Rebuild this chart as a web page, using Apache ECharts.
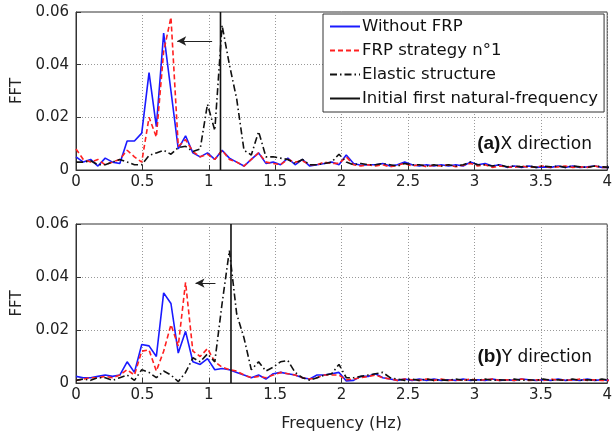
<!DOCTYPE html>
<html><head><meta charset="utf-8">
<script src="https://cdn.jsdelivr.net/npm/echarts@6/dist/echarts.min.js"></script>
<style>html,body{margin:0;padding:0;background:#fff}#c{width:615px;height:437px}</style>
</head><body><div id="c"></div>
<script>
const freq = [0,0.055,0.11,0.165,0.22,0.275,0.33,0.385,0.44,0.495,0.55,0.605,0.66,0.715,0.77,0.825,0.88,0.935,0.99,1.045,1.1,1.155,1.21,1.265,1.32,1.375,1.43,1.485,1.54,1.595,1.65,1.705,1.76,1.815,1.87,1.925,1.98,2.035,2.09,2.145,2.2,2.255,2.31,2.365,2.42,2.475,2.53,2.585,2.64,2.695,2.75,2.805,2.86,2.915,2.97,3.025,3.08,3.135,3.19,3.245,3.3,3.355,3.41,3.465,3.52,3.575,3.63,3.685,3.74,3.795,3.85,3.905,3.96,4.015];
const seriesNames = ['Without FRP','FRP strategy n°1','Elastic structure','Initial first natural-frequency'];
const xTicks = [0,0.5,1,1.5,2,2.5,3,3.5,4];
const yTicks = [0,0.02,0.04,0.06];
// (a) X direction
const xWithout = [0.005,0.003,0.004,0.0015,0.0045,0.003,0.0025,0.011,0.011,0.014,
0.037,0.0165,0.052,0.03,0.008,0.013,0.0065,0.005,0.0065,0.004,
0.0075,0.0045,0.003,0.0015,0.004,0.0065,0.0025,0.003,0.002,0.0045,
0.002,0.004,0.0015,0.002,0.0025,0.003,0.002,0.0057,0.0025,0.0018,
0.002,0.002,0.0025,0.0015,0.002,0.003,0.002,0.0015,0.002,0.0015,
0.002,0.0015,0.002,0.0015,0.003,0.002,0.0025,0.0015,0.002,0.001,
0.0015,0.001,0.0015,0.001,0.0012,0.001,0.0015,0.001,0.0015,0.001,
0.0012,0.0015,0.001,0.001];
const xFRP = [0.008,0.004,0.003,0.004,0.002,0.003,0.004,0.0075,0.005,0.003,
0.02,0.0125,0.045,0.058,0.009,0.0115,0.007,0.005,0.006,0.004,
0.0075,0.004,0.003,0.0015,0.004,0.0065,0.003,0.0025,0.002,0.004,
0.003,0.0035,0.002,0.002,0.003,0.0025,0.0025,0.005,0.002,0.0015,
0.002,0.0015,0.002,0.0012,0.0018,0.0025,0.0015,0.002,0.0012,0.0018,
0.0015,0.002,0.0012,0.0018,0.0025,0.0015,0.002,0.001,0.0015,0.0012,
0.001,0.0015,0.001,0.0012,0.0015,0.001,0.0012,0.0015,0.001,0.0012,
0.001,0.0015,0.001,0.001];
const xElastic = [0.003,0.003,0.0035,0.002,0.002,0.003,0.004,0.003,0.002,0.002,
0.0055,0.0065,0.0075,0.006,0.0085,0.009,0.007,0.008,0.025,0.015,
0.055,0.04,0.027,0.0075,0.0057,0.0146,0.005,0.005,0.0045,0.004,
0.0025,0.004,0.002,0.002,0.0025,0.003,0.006,0.003,0.002,0.0025,
0.002,0.002,0.0025,0.002,0.0015,0.0025,0.002,0.002,0.0015,0.002,
0.0015,0.002,0.0015,0.002,0.003,0.002,0.002,0.0015,0.002,0.0012,
0.0015,0.0012,0.0015,0.001,0.0015,0.0012,0.0015,0.001,0.0015,0.0012,
0.001,0.0015,0.0012,0.001];
const xNatFreq = 1.088;
const xArrow = [[1.025,0.049],[0.762,0.049]];
// (b) Y direction
const yWithout = [0.0025,0.002,0.002,0.0025,0.003,0.0025,0.003,0.008,0.004,0.0145,
0.014,0.01,0.034,0.03,0.0113,0.0195,0.008,0.007,0.0092,0.005,
0.0055,0.005,0.004,0.003,0.002,0.003,0.0015,0.0035,0.004,0.0035,
0.003,0.002,0.0015,0.003,0.003,0.0035,0.004,0.0008,0.001,0.0025,
0.0025,0.0035,0.002,0.0015,0.001,0.0015,0.001,0.0015,0.001,0.0015,
0.001,0.0012,0.001,0.0015,0.001,0.0012,0.001,0.0015,0.001,0.0012,
0.001,0.0015,0.0012,0.001,0.0012,0.001,0.0015,0.001,0.0012,0.001,
0.0015,0.001,0.0012,0.001];
const yFRP = [0.001,0.0015,0.002,0.002,0.0025,0.002,0.003,0.005,0.003,0.012,
0.0125,0.0045,0.012,0.022,0.014,0.038,0.012,0.01,0.013,0.008,
0.006,0.005,0.0045,0.003,0.002,0.0025,0.002,0.003,0.004,0.0035,
0.003,0.002,0.0015,0.002,0.003,0.003,0.003,0.0012,0.0015,0.002,
0.0025,0.003,0.002,0.0015,0.001,0.0015,0.0012,0.001,0.0015,0.001,
0.0015,0.001,0.0012,0.001,0.0015,0.001,0.0012,0.0015,0.001,0.0012,
0.001,0.0015,0.001,0.0012,0.001,0.0015,0.001,0.0012,0.001,0.0015,
0.001,0.0012,0.001,0.001];
const yElastic = [0.001,0.0015,0.001,0.002,0.002,0.001,0.002,0.003,0.001,0.005,
0.004,0.002,0.0045,0.003,0.0005,0.004,0.0095,0.008,0.011,0.008,
0.03,0.05,0.026,0.017,0.005,0.008,0.0045,0.006,0.008,0.0085,
0.004,0.002,0.001,0.002,0.003,0.0035,0.007,0.002,0.002,0.0025,
0.003,0.0035,0.004,0.002,0.0015,0.001,0.0015,0.001,0.0015,0.001,
0.0012,0.001,0.0015,0.001,0.0012,0.001,0.0015,0.001,0.0012,0.001,
0.0015,0.001,0.0012,0.001,0.0015,0.001,0.0012,0.001,0.0015,0.001,
0.0012,0.001,0.0015,0.001];
const yNatFreq = 1.167;
const yArrow = [[1.05,0.0377],[0.9,0.0377]];

const FONT = 'DejaVu Sans, sans-serif';
const BOLD = 'Liberation Sans, Arial, sans-serif';
const pair = v => freq.map((f,i)=>[f, v[i]]);
function xAxis(gi){
  return {type:'value', gridIndex:gi, min:0, max:4, interval:0.5,
    axisLine:{show:true, onZero:false, lineStyle:{color:'#333', width:1}},
    axisTick:{show:true, inside:true, length:5, lineStyle:{color:'#333'}},
    axisLabel:{color:'#222', fontSize:15, fontFamily:FONT, margin:5,
      formatter:v=>xTicks.indexOf(v)>=0?String(v):''},
    splitLine:{show:true, lineStyle:{color:'#999', type:[1,2], width:1}}};
}
function yAxis(gi){
  return {type:'value', gridIndex:gi, min:0, max:0.06, interval:0.02,
    name:'FFT', nameLocation:'middle', nameGap:46, nameRotate:90,
    nameTextStyle:{color:'#222', fontSize:15, fontFamily:FONT},
    axisLine:{show:true, lineStyle:{color:'#333', width:1}},
    axisTick:{show:true, inside:true, length:5, lineStyle:{color:'#333'}},
    axisLabel:{color:'#222', fontSize:15, fontFamily:FONT, margin:7,
      formatter:v=>{const i=yTicks.findIndex(t=>Math.abs(t-v)<1e-9);return i<0?'':(v===0?'0':v.toFixed(2));}},
    splitLine:{show:true, lineStyle:{color:'#999', type:[1,2], width:1}}};
}
function panel(gi, w, f, e, nat, arrow){
  const base = {type:'line', xAxisIndex:gi, yAxisIndex:gi, symbol:'none', animation:false};
  return [
    Object.assign({}, base, {name:seriesNames[0], data:pair(w), lineStyle:{color:'#1a1aff', width:1.6}, itemStyle:{color:'#1a1aff'}, z:3}),
    Object.assign({}, base, {name:seriesNames[1], data:pair(f), lineStyle:{color:'#ff2020', width:1.6, type:[5,3]}, itemStyle:{color:'#ff2020'}, z:4}),
    Object.assign({}, base, {name:seriesNames[2], data:pair(e), lineStyle:{color:'#111', width:1.6, type:[7,3,1.5,3]}, itemStyle:{color:'#111'}, z:5,
      markLine:{silent:true, symbol:['none','arrow'], symbolSize:[7,9], animation:false, label:{show:false},
        lineStyle:{color:'#222', width:1, type:'solid'}, data:[[{coord:arrow[0]},{coord:arrow[1]}]]}}),
    Object.assign({}, base, {name:seriesNames[3], data:[[nat,0],[nat,0.06]], lineStyle:{color:'#111', width:1.6}, itemStyle:{color:'#111'}, z:6})
  ];
}
const chart = echarts.init(document.getElementById('c'), null, {renderer:'canvas'});
chart.setOption({
  backgroundColor:'#fff',
  animation:false,
  grid:[
    {left:76, right:5, top:12, height:158, show:true, borderColor:'#333', borderWidth:1, backgroundColor:'transparent'},
    {left:76, right:5, top:224, height:159, show:true, borderColor:'#333', borderWidth:1, backgroundColor:'transparent'}
  ],
  xAxis:[xAxis(0), Object.assign(xAxis(1), {name:'Frequency (Hz)', nameLocation:'middle', nameGap:33,
    nameTextStyle:{color:'#222', fontSize:16, fontFamily:FONT}})],
  yAxis:[yAxis(0), yAxis(1)],
  legend:{data:seriesNames, orient:'vertical', left:323, top:14, itemWidth:30, itemHeight:14, itemGap:7,
    padding:[4,6,5,6], borderColor:'#333', borderWidth:1, backgroundColor:'#fff',
    itemStyle:{opacity:0},
    textStyle:{color:'#111', fontSize:16.5, fontFamily:FONT, padding:[0,0,0,-3]}, selectedMode:false, z:10},
  title:[
    {text:'{a|(a)}{b|X direction}', right:18, top:129, textStyle:{rich:{a:{fontSize:19, fontWeight:'bold', color:'#111', fontFamily:BOLD}, b:{fontSize:17, fontWeight:'normal', color:'#111', fontFamily:FONT, padding:[2,0,0,0]}}}},
    {text:'{a|(b)}{b|Y direction}', right:18, top:342, textStyle:{rich:{a:{fontSize:19, fontWeight:'bold', color:'#111', fontFamily:BOLD}, b:{fontSize:17, fontWeight:'normal', color:'#111', fontFamily:FONT, padding:[2,0,0,0]}}}}
  ],
  series:[].concat(panel(0, xWithout, xFRP, xElastic, xNatFreq, xArrow), panel(1, yWithout, yFRP, yElastic, yNatFreq, yArrow))
});
</script></body></html>
